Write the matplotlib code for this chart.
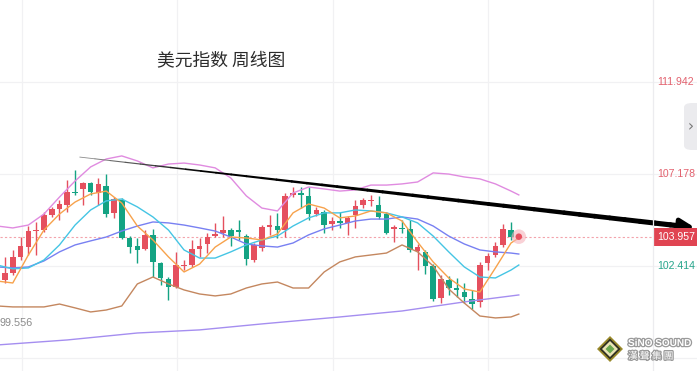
import matplotlib
matplotlib.use("Agg")
import matplotlib.pyplot as plt
import matplotlib.transforms as mtrans
import matplotlib.patheffects as pe
from matplotlib.collections import LineCollection
from matplotlib.patches import Rectangle, FancyBboxPatch, Polygon
from matplotlib.lines import Line2D
import numpy as np

plt.rcParams["font.family"] = ["Noto Sans CJK SC", "DejaVu Sans"]

# weekly candles
opens = [101.20, 101.72, 102.08, 102.91, 103.42, 104.25, 104.30, 105.08, 105.39, 105.60,
         106.27, 106.43, 106.74, 106.22, 106.58, 105.19, 105.86, 103.89, 103.48, 103.32,
         104.05, 102.60, 101.77, 101.35, 102.44, 102.49, 103.32, 103.58, 103.99, 104.15,
         104.30, 104.30, 103.99, 102.75, 103.37, 104.46, 104.51, 104.30, 106.12, 106.22,
         106.07, 105.13, 105.24, 104.62, 104.77, 104.67, 105.08, 105.60, 105.81, 105.60,
         105.13, 104.36, 104.41, 104.36, 103.22, 103.17, 102.44, 100.78, 101.72, 101.30,
         101.09, 100.73, 100.58, 102.60, 103.01, 103.53, 104.30]
closes = [101.72, 102.08, 102.91, 103.48, 104.25, 104.30, 105.08, 105.39, 105.65, 106.27,
          106.22, 106.74, 106.27, 106.69, 105.13, 105.91, 103.89, 103.42, 103.27, 104.05,
          102.65, 101.82, 101.35, 102.49, 102.49, 103.32, 103.48, 103.94, 104.10, 104.30,
          103.99, 104.20, 102.80, 103.53, 104.46, 104.56, 104.30, 106.07, 106.22, 106.12,
          105.13, 105.34, 104.56, 104.77, 104.67, 104.93, 105.55, 105.86, 105.86, 104.98,
          104.15, 104.46, 104.36, 103.27, 103.42, 102.44, 100.73, 101.77, 101.30, 101.20,
          100.84, 100.47, 102.49, 102.96, 103.48, 104.36, 103.957]
highs = [102.13, 102.91, 103.27, 103.94, 104.51, 104.72, 105.24, 105.50, 105.86, 106.89,
         107.41, 106.79, 106.79, 107.00, 107.20, 106.01, 105.96, 103.99, 103.89, 104.30,
         104.36, 102.65, 101.87, 103.17, 102.75, 103.79, 103.89, 104.15, 104.67, 105.03,
         104.41, 104.82, 104.10, 103.63, 104.56, 105.08, 105.19, 106.22, 106.53, 106.53,
         106.53, 105.50, 105.34, 104.98, 105.24, 105.03, 105.86, 105.96, 106.12, 106.07,
         105.24, 104.56, 104.82, 104.82, 103.58, 103.27, 102.54, 101.97, 101.92, 101.82,
         101.56, 101.20, 102.65, 103.11, 103.68, 104.62, 104.72]
lows = [100.89, 101.56, 101.97, 102.75, 103.01, 103.01, 104.20, 104.98, 104.82, 105.24,
        106.12, 105.60, 106.12, 105.60, 104.98, 104.93, 103.85, 103.11, 102.60, 103.27,
        101.87, 101.46, 100.68, 101.30, 102.23, 102.39, 102.91, 103.11, 103.94, 103.94,
        103.48, 103.79, 102.49, 102.65, 103.22, 104.05, 103.89, 103.94, 106.01, 105.44,
        104.82, 105.03, 104.15, 104.30, 104.41, 104.05, 104.41, 105.44, 105.55, 104.87,
        104.10, 103.68, 104.15, 103.17, 102.23, 102.03, 100.63, 100.52, 100.94, 100.84,
        100.52, 100.21, 100.32, 102.23, 102.91, 103.42, 103.79]

# indicator lines, read every second week
line_idx = list(range(0, 67, 2)) + [67]
ma5 = [101.66, 101.56, 103.01, 104.30, 105.13, 105.75, 106.17, 106.32, 105.70, 104.51,
       103.79, 102.91, 102.13, 102.54, 103.42, 103.94, 103.89, 103.79, 104.10, 105.19,
       105.65, 105.44, 104.93, 105.03, 105.29, 105.19, 104.77, 103.68, 102.65, 101.82,
       101.25, 101.09, 102.34, 103.63, 103.89]
ma10 = [102.49, 102.29, 102.34, 102.75, 103.53, 104.56, 105.34, 105.81, 105.91, 105.50,
        104.98, 104.30, 103.27, 102.85, 102.85, 103.17, 103.53, 103.79, 103.99, 104.51,
        104.93, 105.19, 105.19, 105.34, 105.29, 105.19, 104.98, 104.67, 103.99, 103.17,
        102.39, 101.87, 101.82, 102.23, 102.49]
ma20 = [102.39, 102.34, 102.39, 102.70, 103.17, 103.53, 103.74, 103.94, 104.25, 104.51,
        104.72, 104.67, 104.56, 104.41, 104.25, 103.94, 103.58, 103.48, 103.42, 103.63,
        104.05, 104.36, 104.56, 104.77, 104.87, 104.87, 104.98, 104.87, 104.51, 103.99,
        103.58, 103.27, 103.17, 103.11, 103.06]
boll_up = [104.51, 104.41, 104.56, 105.13, 106.01, 106.84, 107.57, 107.98, 108.14, 107.88,
           107.52, 107.72, 107.77, 107.67, 107.52, 107.00, 106.07, 105.44, 105.29, 106.22,
           106.53, 106.43, 106.32, 106.38, 106.63, 106.63, 106.69, 106.79, 107.26, 107.20,
           107.05, 106.95, 106.69, 106.32, 106.12]
boll_dn = [100.37, 100.32, 100.32, 100.32, 100.47, 100.27, 100.06, 100.16, 100.37, 101.51,
           101.87, 101.51, 101.20, 100.99, 100.89, 100.99, 101.30, 101.51, 101.61, 101.30,
           101.30, 102.13, 102.65, 102.91, 103.01, 103.11, 103.53, 103.17, 102.44, 101.25,
           100.52, 99.85, 99.75, 99.80, 99.95]
long_idx = [0, 9, 18, 26, 34, 44, 52, 60, 67]
ma_long = [98.35, 98.61, 98.97, 99.13, 99.44, 99.80, 100.11, 100.58, 100.94]

axis_labels = [111.942, 107.178, 102.414]
last_price = 103.957
low_mark = "99.556"
trend_x = [10.6, 88.4]
trend_y = [108.08, 104.48]
title = "美元指数 周线图"

red = "#e5505e"
green = "#14a383"
num_font = "Liberation Sans"

fig = plt.figure(figsize=(6.97, 3.71), dpi=100)
ax = fig.add_axes([0, 0, 1, 1])
ax.set_xlim(0.358, 89.89)
ax.set_ylim(97.002, 116.214)
ax.axis("off")

# grid
for g in [116.706, 111.942, 107.178, 102.414, 97.65]:
    ax.axhline(g, color="#f1f1f3", lw=0.9, zorder=0)
for g in [3.2, 23.1, 43.1, 63.0]:
    ax.axvline(g, color="#f1f1f3", lw=0.9, zorder=0)
fig.add_artist(Line2D([653 / 697, 653 / 697], [0, 1], color="#ececef", lw=0.9))

# candles
for i in range(len(opens)):
    o, c, h, l = opens[i], closes[i], highs[i], lows[i]
    col = red if c >= o else green
    ax.vlines(i, l, h, color=col, lw=1.0, zorder=2)
    bottom = min(o, c)
    height = max(abs(c - o), 0.06)
    ax.add_patch(Rectangle((i - 0.36, bottom), 0.72, height, facecolor=col,
                           edgecolor="none", zorder=3))

# current price line
ax.plot([0.358, 84.3], [last_price, last_price], color="#f3a3ab", lw=0.8,
        ls=(0, (2, 2)), zorder=1)

# indicators
ax.plot(long_idx, ma_long, color="#a58ef0", lw=1.0, zorder=4)
ax.plot(line_idx, boll_up, color="#e08be0", lw=1.0, zorder=4)
ax.plot(line_idx, boll_dn, color="#c4875f", lw=1.0, zorder=4)
ax.plot(line_idx, ma20, color="#7880f2", lw=1.0, zorder=4)
ax.plot(line_idx, ma10, color="#45c5e4", lw=1.0, zorder=4)
ax.plot(line_idx, ma5, color="#f7a24c", lw=1.0, zorder=4)

# pulsing dot on the last bar
ax.scatter([67], [last_price], s=110, color="#f6b3bb", alpha=0.6, edgecolors="none", zorder=5)
ax.scatter([67], [last_price], s=22, color="#e8505f", edgecolors="none", zorder=6)

# hand drawn trend line, thin at the start, thick at the end
n = 40
tx = np.linspace(trend_x[0], trend_x[1], n + 1)
ty = np.linspace(trend_y[0], trend_y[1], n + 1)
segs = [[(tx[k], ty[k]), (tx[k + 1], ty[k + 1])] for k in range(n)]
frac = np.linspace(0, 1, n)
widths = 0.6 + 3.2 * frac
cols = [(0.55 * (1 - min(f * 5, 1)),) * 3 for f in frac]
ax.add_collection(LineCollection(segs, linewidths=widths, colors=cols,
                                 capstyle="round", zorder=7))
ax.annotate("", xy=(89.95, 104.42), xytext=(trend_x[1] - 0.5, trend_y[1] + 0.02),
            arrowprops=dict(arrowstyle="-|>,head_length=0.7,head_width=0.35",
                            color="black", lw=3.5, mutation_scale=12), zorder=8)

# right price scale
tr = mtrans.blended_transform_factory(ax.transAxes, ax.transData)
for v, col in zip(axis_labels, ["#e2606d", "#e2606d", "#25a58b"]):
    ax.text(0.9435, v, f"{v:.3f}", transform=tr, fontsize=7.6, color=col,
            va="center", ha="left", family=num_font)
ax.add_patch(Rectangle((654 / 697, last_price - 0.46), 43 / 697, 0.92, transform=tr,
                       facecolor="#e04452", edgecolor="none", zorder=9))
ax.text(0.9435, last_price, f"{last_price:.3f}", transform=tr, fontsize=7.6,
        color="white", va="center", ha="left", family=num_font, zorder=10)
ax.text(0.0, 116.214 - 0.05178 * 323, low_mark, transform=tr, fontsize=7.8,
        color="#8a8a8a", va="center", ha="left", family=num_font)

# collapse tab
fig.add_artist(FancyBboxPatch((684 / 697, 1 - 150 / 371), 20 / 697, 47 / 371,
                              boxstyle="round,pad=0,rounding_size=0.012",
                              facecolor="#ebebee", edgecolor="none",
                              transform=fig.transFigure))
fig.text(691 / 697, 1 - 127 / 371, "›", fontsize=11, color="#777777",
         ha="center", va="center", family="DejaVu Sans")

# title
fig.text(221 / 697, 1 - 60 / 371, title, fontsize=12.8, color="#2b2b2b",
         ha="center", va="center")

# watermark logo
cx, cy = 610 / 697, 1 - 349 / 371
for r, col in [(13, "#9a8a2c"), (10.5, "#2e2e22"), (8, "#e9e3b5"), (4.5, "#6aa84f")]:
    rx, ry = r / 697, r / 371
    fig.add_artist(Polygon([(cx - rx, cy), (cx, cy + ry), (cx + rx, cy), (cx, cy - ry)],
                           closed=True, facecolor=col, edgecolor="none",
                           transform=fig.transFigure))
stroke = [pe.withStroke(linewidth=1.8, foreground="#9a9a9a")]
fig.text(628 / 697, 1 - 343 / 371, "SiNO SOUND", fontsize=7.2, fontweight="bold",
         color="white", ha="left", va="center", family=num_font, path_effects=stroke)
fig.text(628 / 697, 1 - 356 / 371, "漢 聲 集 團", fontsize=7, color="white",
         ha="left", va="center", family=["Noto Sans CJK TC", "DejaVu Sans"],
         path_effects=stroke)

fig.savefig("out.png", dpi=100, facecolor="white")
